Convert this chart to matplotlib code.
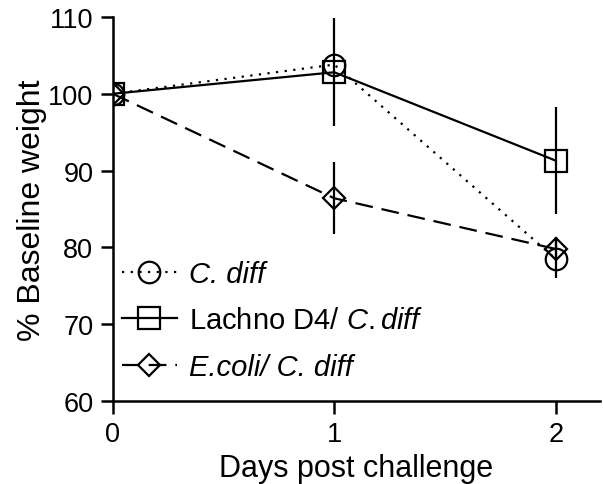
import matplotlib
matplotlib.use("Agg")
import matplotlib.pyplot as plt

plt.rcParams['font.family'] = ['Liberation Sans', 'DejaVu Sans']
plt.rcParams['mathtext.fontset'] = 'custom'
plt.rcParams['mathtext.rm'] = 'Liberation Sans'
plt.rcParams['mathtext.it'] = 'Liberation Sans:italic'

days = [0, 1, 2]
cdiff = [100, 103.8, 78.5]
cdiff_err = [0, 0, 2.5]
lachno = [100, 102.8, 91.3]
lachno_err = [0, 7.0, 7.0]
ecoli = [100, 86.4, 79.8]
ecoli_err = [0, 4.7, 1.5]
labels = ['C. diff', 'Lachno D4/ $\\mathit{C.diff}$', 'E.coli/ C. diff']

fig = plt.figure(figsize=(6.03, 4.85), dpi=100)
ax = fig.add_axes([0.187, 0.171, 0.808, 0.792])

lw = 1.6
common = dict(color='black', lw=lw, mfc='none', mec='black', mew=lw,
              elinewidth=lw, capsize=0, zorder=3)
c1 = ax.errorbar(days, cdiff, yerr=cdiff_err, ls=(0, (1, 2.9)), marker='o', ms=15.5,
                 **common)
c2 = ax.errorbar(days, lachno, yerr=lachno_err, ls='-', marker='s', ms=15.5,
                 **common)
c3 = ax.errorbar(days, ecoli, yerr=ecoli_err, ls=(0, (8, 4)), marker='D', ms=11.5,
                 **common)

ax.set_xlim(0, 2.2)
ax.set_ylim(60, 110)
ax.set_xticks([0, 1, 2])
ax.set_yticks([60, 70, 80, 90, 100, 110])
for s in ['top', 'right']:
    ax.spines[s].set_visible(False)
for s in ['left', 'bottom']:
    ax.spines[s].set_linewidth(1.8)
ax.tick_params(direction='out', length=9, width=1.8, labelsize=19.5, pad=5)
ax.set_xlabel('Days post challenge', fontsize=22, labelpad=5)
ax.set_ylabel('% Baseline weight', fontsize=23, labelpad=1)

leg = ax.legend([c1.lines[0], c2.lines[0], c3.lines[0]], labels,
                loc='lower left', bbox_to_anchor=(0.0, 0.03), frameon=False,
                fontsize=21, handlelength=1.9, handletextpad=0.4,
                labelspacing=0.63, borderaxespad=0.1, borderpad=0.2)
texts = leg.get_texts()
texts[0].set_fontstyle('italic')
texts[2].set_fontstyle('italic')

fig.savefig('out.png', dpi=100)
